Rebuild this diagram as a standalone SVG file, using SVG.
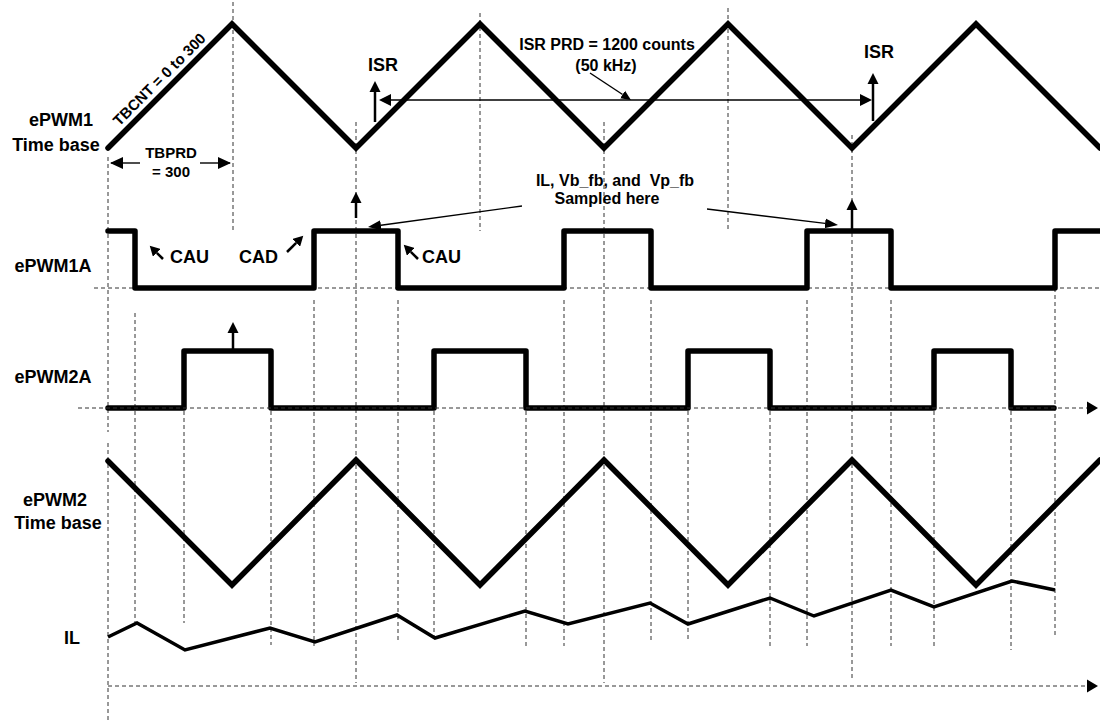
<svg xmlns="http://www.w3.org/2000/svg" width="1100" height="723" viewBox="0 0 1100 723">
<style>
.bg{fill:#fff}
.wave{fill:none;stroke:#000;stroke-width:5.5;stroke-linecap:round;stroke-linejoin:miter}
.sq{fill:none;stroke:#000;stroke-width:5.5;stroke-linecap:round;stroke-linejoin:round}
.il{fill:none;stroke:#000;stroke-width:3.5;stroke-linejoin:miter}
.dash{fill:none;stroke:#333;stroke-width:1;stroke-dasharray:4 3}
.thin{fill:none;stroke:#000;stroke-width:1.4}
.arr{fill:none;stroke:#000;stroke-width:2.5}
.lbl{font-family:"Liberation Sans",Arial,sans-serif;font-weight:bold;font-size:18px;fill:#000}
.sm{font-family:"Liberation Sans",Arial,sans-serif;font-weight:bold;font-size:15px;fill:#000}
.md{font-family:"Liberation Sans",Arial,sans-serif;font-weight:bold;font-size:16px;fill:#000}
</style>
<defs>
<marker id="hUp" markerUnits="userSpaceOnUse" markerWidth="12" markerHeight="12" refX="0" refY="6" orient="auto"><path d="M0,0.5 L11,6 L0,11.5 z" fill="#000"/></marker>
<marker id="hThin" markerUnits="userSpaceOnUse" markerWidth="13" markerHeight="13" refX="0" refY="6.5" orient="auto-start-reverse"><path d="M0,0.5 L12,6.5 L0,12.5 z" fill="#000"/></marker>
<marker id="hLead" markerUnits="userSpaceOnUse" markerWidth="14" markerHeight="12" refX="0" refY="6" orient="auto"><path d="M0,1 L13,6 L0,11 z" fill="#000"/></marker>
<marker id="hSmall" markerUnits="userSpaceOnUse" markerWidth="11" markerHeight="10" refX="0" refY="5" orient="auto"><path d="M0,0.5 L10,5 L0,9.5 z" fill="#000"/></marker>
<marker id="hCa" markerUnits="userSpaceOnUse" markerWidth="11" markerHeight="11" refX="0" refY="5.5" orient="auto"><path d="M0,0 L10,5.5 L0,11 z" fill="#000"/></marker>
<marker id="hAxis" markerUnits="userSpaceOnUse" markerWidth="12" markerHeight="14" refX="0" refY="7" orient="auto"><path d="M0,0.5 L11,7 L0,13.5 z" fill="#000"/></marker>
</defs>
<rect class="bg" x="0" y="0" width="1100" height="723"/>

<g id="gridlines">
<path class="dash" d="M108,157 V432 M108,443 V722"/>
<path class="dash" d="M233,2 V231 M480,13 V231 M728,8 V231"/>
<path class="dash" d="M356,122 V683 M604,122 V683 M852,135 V680"/>
<path class="dash" d="M135,313 V623 M314,300 V646 M398,300 V642 M564,300 V646 M651,300 V642 M807,300 V646 M891,300 V646 M1055,288 V638"/>
<path class="dash" d="M184,411 V623 M271,411 V645 M434,411 V642 M526,411 V646 M688,411 V642 M770,411 V646 M934,411 V646 M1011,411 V650"/>
<path class="dash" d="M94,288 H1100"/>
</g>

<g id="epwm1-timebase">
<polyline class="wave" points="108,148 232,24 356,148 480,24 604,148 728,24 852,148 976,24 1100,148"/>
</g>

<g id="epwm1a">
<polyline class="sq" points="108,231 135,231 135,288 314,288 314,231 398,231 398,288 564,288 564,231 651,231 651,288 807,288 807,231 891,231 891,288 1055,288 1055,231 1102,231"/>
</g>

<g id="epwm2a">
<polyline class="sq" points="108,408 184,408 184,351 271,351 271,408 434,408 434,351 526,351 526,408 688,408 688,351 770,351 770,408 934,408 934,351 1011,351 1011,408 1054,408"/>
</g>

<g id="epwm2-timebase">
<polyline class="wave" points="108,461 232,585 356,460 480,585 604,460 728,585 852,460 976,585 1100,460"/>
</g>

<g id="il">
<polyline class="il" points="108,637 137,623 185,650 270,628 315,642 397,615 435,638 525,611 568,624 650,603 688,624 770,598 814,616 891,590 934,607 1012,581 1055,590"/>
</g>

<g id="connectors">
<path class="dash" d="M78,408 H1087" marker-end="url(#hAxis)"/>
<path class="dash" d="M108,686 H1087" marker-end="url(#hAxis)"/>
<line class="arr" x1="375" y1="122" x2="375" y2="92" marker-end="url(#hUp)"/>
<line class="arr" x1="873" y1="121" x2="873" y2="84" marker-end="url(#hUp)"/>
<line class="thin" x1="391" y1="100" x2="860" y2="100" marker-start="url(#hThin)" marker-end="url(#hThin)"/>
<line class="thin" x1="590" y1="73" x2="622.6" y2="94.5" marker-end="url(#hSmall)"/>
<line class="arr" x1="356" y1="218" x2="356" y2="203" marker-end="url(#hUp)"/>
<line class="arr" x1="852" y1="229" x2="852" y2="210" marker-end="url(#hUp)"/>
<line class="arr" x1="233" y1="350" x2="233" y2="333" marker-end="url(#hUp)"/>
<line class="thin" x1="522" y1="206" x2="380.9" y2="225.2" marker-end="url(#hLead)"/>
<line class="thin" x1="707" y1="209" x2="825.1" y2="223.4" marker-end="url(#hLead)"/>
<line class="arr" x1="163" y1="259" x2="156.8" y2="252.8" marker-end="url(#hCa)"/>
<line class="arr" x1="418" y1="259" x2="410.8" y2="251.8" marker-end="url(#hCa)"/>
<line class="arr" x1="287" y1="252" x2="296.2" y2="242.8" marker-end="url(#hCa)"/>
<line class="thin" x1="111" y1="163" x2="140" y2="163"/>
<line class="thin" x1="200" y1="163" x2="230" y2="163"/>
<path d="M110,163 L123,157 L123,169 z M231,163 L218,157 L218,169 z" fill="#000"/>
</g>

<g id="labels">
<text class="lbl" x="61" y="126" text-anchor="middle">ePWM1</text>
<text class="lbl" x="56" y="151" text-anchor="middle">Time base</text>
<text class="lbl" x="53" y="272" text-anchor="middle">ePWM1A</text>
<text class="lbl" x="53" y="383" text-anchor="middle">ePWM2A</text>
<text class="lbl" x="55" y="506" text-anchor="middle">ePWM2</text>
<text class="lbl" x="58" y="529" text-anchor="middle">Time base</text>
<text class="lbl" x="72" y="644" text-anchor="middle">IL</text>
<text class="sm" x="163" y="83" text-anchor="middle" transform="rotate(-45 163 83)">TBCNT = 0 to 300</text>
<text class="sm" x="171" y="158" text-anchor="middle">TBPRD</text>
<text class="sm" x="171" y="177" text-anchor="middle">= 300</text>
<text class="lbl" x="383" y="71" text-anchor="middle">ISR</text>
<text class="lbl" x="879" y="58" text-anchor="middle">ISR</text>
<text class="md" x="607" y="50" text-anchor="middle">ISR PRD = 1200 counts</text>
<text class="md" x="606" y="71" text-anchor="middle">(50 kHz)</text>
<text class="md" x="615" y="186" text-anchor="middle" xml:space="preserve">IL, Vb_fb, and  Vp_fb</text>
<text class="md" x="607" y="204" text-anchor="middle">Sampled here</text>
<text class="lbl" x="170" y="263">CAU</text>
<text class="lbl" x="239" y="263">CAD</text>
<text class="lbl" x="422" y="263">CAU</text>
</g>
</svg>
